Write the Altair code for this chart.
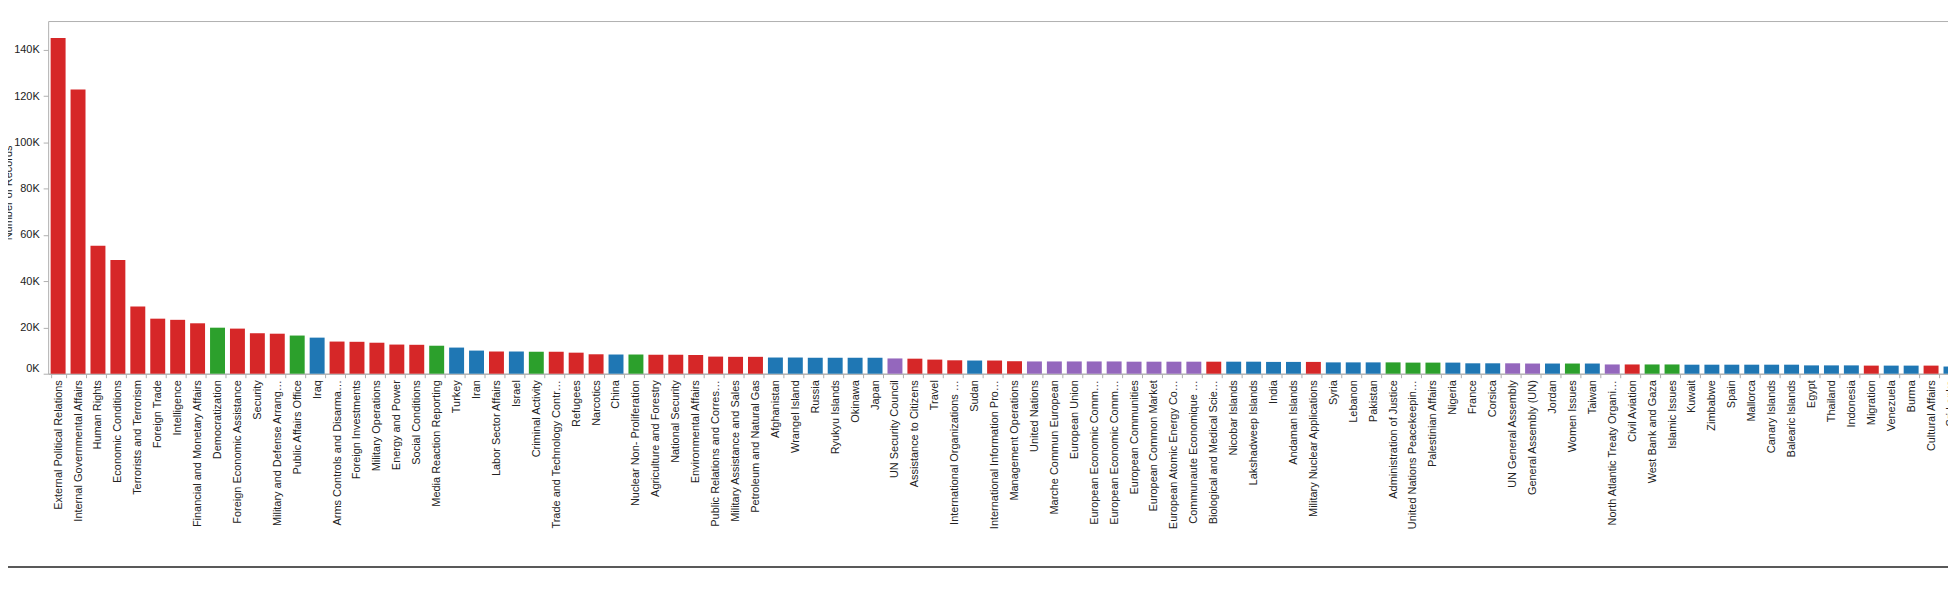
import altair as alt
import pandas as pd

categories = [
    "External Political Relations", "Internal Governmental Affairs", "Human Rights",
    "Economic Conditions", "Terrorists and Terrorism", "Foreign Trade", "Intelligence",
    "Financial and Monetary Affairs", "Democratization", "Foreign Economic Assistance",
    "Security", "Military and Defense Arrangements", "Public Affairs Office", "Iraq",
    "Arms Controls and Disarmament", "Foreign Investments", "Military Operations",
    "Energy and Power", "Social Conditions", "Media Reaction Reporting", "Turkey", "Iran",
    "Labor Sector Affairs", "Israel", "Criminal Activity", "Trade and Technology Controls",
    "Refugees", "Narcotics", "China", "Nuclear Non- Proliferation",
    "Agriculture and Forestry", "National Security", "Environmental Affairs",
    "Public Relations and Correspondence", "Military Assistance and Sales",
    "Petroleum and Natural Gas", "Afghanistan", "Wrangel Island", "Russia",
    "Ryukyu Islands", "Okinawa", "Japan", "UN Security Council", "Assistance to Citizens",
    "Travel", "International Organizations and Conferences", "Sudan",
    "International Information Programs", "Management Operations", "United Nations",
    "Marche Commun European", "European Union", "European Economic Community",
    "European Economic Communities", "European Communities", "European Common Market",
    "European Atomic Energy Community", "Communaute Economique Europeenne",
    "Biological and Medical Sciences", "Nicobar Islands", "Lakshadweep Islands", "India",
    "Andaman Islands", "Military Nuclear Applications", "Syria", "Lebanon", "Pakistan",
    "Administration of Justice", "United Nations Peacekeeping Forces", "Palestinian Affairs",
    "Nigeria", "France", "Corsica", "UN General Assembly", "General Assembly (UN)", "Jordan",
    "Women Issues", "Taiwan", "North Atlantic Treaty Organization", "Civil Aviation",
    "West Bank and Gaza", "Islamic Issues", "Kuwait", "Zimbabwe", "Spain", "Mallorca",
    "Canary Islands", "Balearic Islands", "Egypt", "Thailand", "Indonesia", "Migration",
    "Venezuela", "Burma", "Cultural Affairs", "Sri Lanka",
]

records = [
    145200, 122900, 55300, 49200, 29100, 23800, 23300, 21800, 19900, 19500,
    17500, 17300, 16500, 15600, 13900, 13800, 13400, 12600, 12500, 12100,
    11300, 10000, 9600, 9600, 9500, 9500, 9100, 8400, 8300, 8300,
    8200, 8200, 8100, 7400, 7300, 7300, 7000, 7000, 6900, 6900,
    6900, 6900, 6600, 6500, 6100, 5800, 5700, 5700, 5400, 5300,
    5300, 5300, 5300, 5300, 5200, 5200, 5200, 5200, 5200, 5200,
    5200, 5100, 5100, 5100, 4900, 4900, 4900, 4900, 4800, 4800,
    4800, 4500, 4500, 4500, 4400, 4400, 4400, 4400, 4000, 4000,
    4000, 4000, 3900, 3900, 3900, 3900, 3900, 3900, 3600, 3600,
    3600, 3500, 3500, 3500, 3500, 3100,
]

groups = [
    "Subject", "Subject", "Subject", "Subject", "Subject", "Subject", "Subject",
    "Subject", "Program", "Subject", "Subject", "Subject", "Program", "Country",
    "Subject", "Subject", "Subject", "Subject", "Subject", "Program", "Country", "Country",
    "Subject", "Country", "Program", "Subject", "Subject", "Subject", "Country", "Program",
    "Subject", "Subject", "Subject", "Subject", "Subject", "Subject", "Country", "Country",
    "Country", "Country", "Country", "Country", "Organization", "Subject", "Subject",
    "Subject", "Country", "Subject", "Subject", "Organization", "Organization",
    "Organization", "Organization", "Organization", "Organization", "Organization",
    "Organization", "Organization", "Subject", "Country", "Country", "Country", "Country",
    "Subject", "Country", "Country", "Country", "Program", "Program", "Program", "Country",
    "Country", "Country", "Organization", "Organization", "Country", "Program", "Country",
    "Organization", "Subject", "Program", "Program", "Country", "Country", "Country",
    "Country", "Country", "Country", "Country", "Country", "Country", "Subject", "Country",
    "Country", "Subject", "Country",
]

group_names = ["Subject", "Country", "Organization", "Program"]
group_colors = ["#d62728", "#1f77b4", "#9467bd", "#2ca02c"]
y_ticks = [0, 20000, 40000, 60000, 80000, 100000, 120000, 140000]

df = pd.DataFrame({"Subject": categories, "Records": records, "Group": groups})

FONT = "Liberation Sans"
GRAY = "#b0b0b0"

bars = alt.Chart(df).mark_bar().encode(
    x=alt.X(
        "Subject:N",
        sort=None,
        title=None,
        scale=alt.Scale(paddingInner=0.25, paddingOuter=0.125),
        axis=alt.Axis(
            labelAngle=270,
            labelLimit=151,
            labelFontSize=11,
            labelFont=FONT,
            labelColor="#222222",
            labelPadding=2,
            tickBand="extent",
            tickSize=4,
            tickColor=GRAY,
            domainColor=GRAY,
        ),
    ),
    y=alt.Y(
        "Records:Q",
        title="Number of Records",
        scale=alt.Scale(domain=[0, 152500], nice=False),
        axis=alt.Axis(
            values=y_ticks,
            labelExpr="datum.value / 1000 + 'K'",
            labelFlush=True,
            grid=False,
            domain=False,
            tickSize=5,
            tickColor=GRAY,
            labelPadding=4,
            labelFontSize=11,
            labelFont=FONT,
            labelColor="#222222",
            titleFont=FONT,
            titleFontSize=11,
            titleFontWeight="normal",
            titleColor="#222222",
            titleX=-35,
            titleY=172,
            titleAngle=270,
            titleBaseline="bottom",
            titleAlign="center",
        ),
    ),
    color=alt.Color(
        "Group:N",
        scale=alt.Scale(domain=group_names, range=group_colors),
        legend=None,
    ),
)

line = alt.Chart(pd.DataFrame({"k": [0]})).mark_rule(color="#222222", strokeWidth=1.5).encode(
    x=alt.value(-41),
    x2=alt.value(1930),
    y=alt.value(548),
)

chart = alt.layer(bars, line).properties(
    width=1920,
    height=354,
    autosize=alt.AutoSizeParams(type="none"),
    padding={"left": 40.3, "top": 12, "right": -13, "bottom": 210},
).configure_view(stroke=GRAY, strokeWidth=1)

chart.save("out.html", embed_options={"renderer": "svg", "actions": False})
